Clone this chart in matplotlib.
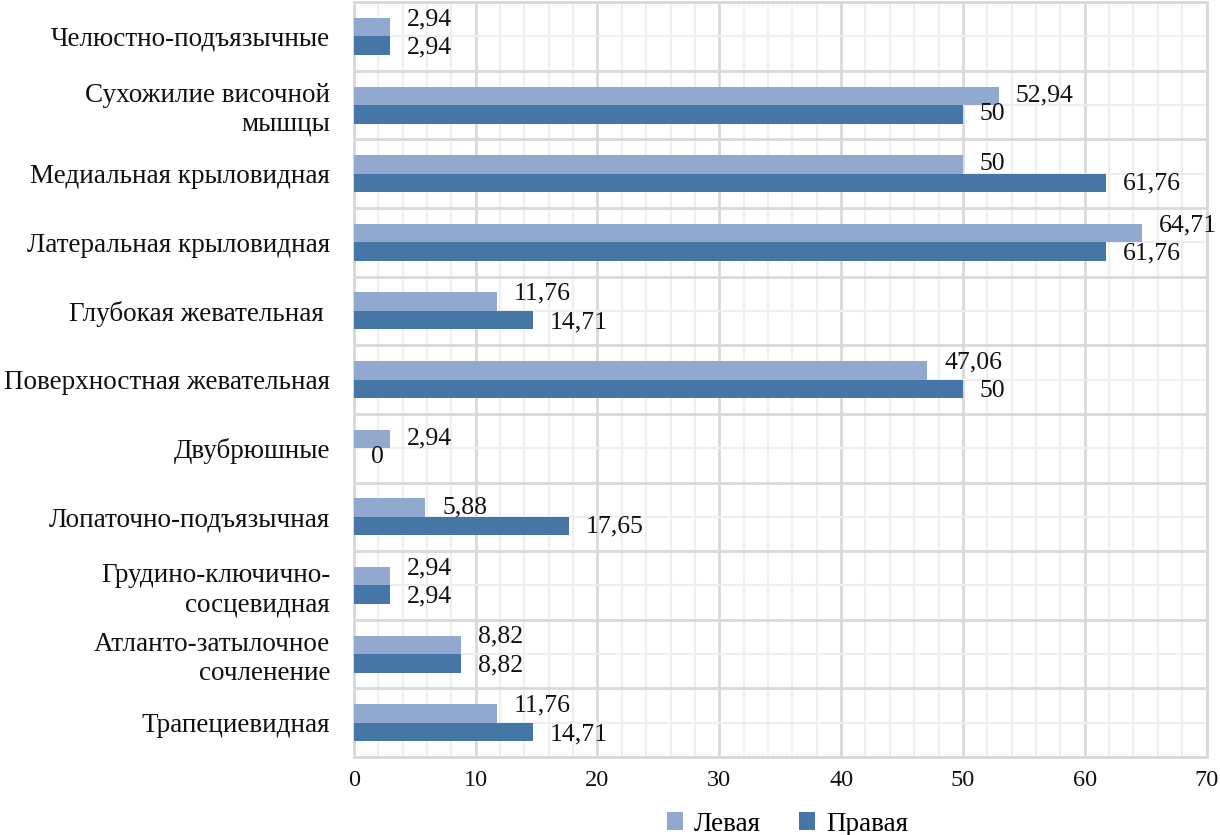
import matplotlib.pyplot as plt
from matplotlib.ticker import MultipleLocator
import numpy as np

categories = ['Челюстно-подъязычные', 'Сухожилие височной\nмышцы', 'Медиальная крыловидная',
              'Латеральная крыловидная', 'Глубокая жевательная ', 'Поверхностная жевательная',
              'Двубрюшные', 'Лопаточно-подъязычная', 'Грудино-ключично-\nсосцевидная',
              'Атланто-затылочное\nсочленение', 'Трапециевидная']
left = [2.94, 52.94, 50, 64.71, 11.76, 47.06, 2.94, 5.88, 2.94, 8.82, 11.76]
right = [2.94, 50, 61.76, 61.76, 14.71, 50, 0, 17.65, 2.94, 8.82, 14.71]
series_names = ['Левая', 'Правая']

plt.rcParams['font.family'] = ['Liberation Serif', 'DejaVu Serif']

fig = plt.figure(figsize=(12.2, 8.35), dpi=100)
ax = fig.add_axes([0.290, 0.0934, 0.699, 0.904])

y = np.arange(len(categories))
h = 0.27
c_left = '#92a9cf'
c_right = '#4676a6'
b1 = ax.barh(y - h / 2, left, height=h, color=c_left, label=series_names[0], zorder=3)
b2 = ax.barh(y + h / 2, right, height=h, color=c_right, label=series_names[1], zorder=3)

def fmt(v):
    return ('%g' % v).replace('.', ',')

labels = []
for bars, vals in ((b1, left), (b2, right)):
    row = []
    for rect, v in zip(bars, vals):
        t = ax.annotate(fmt(v), (rect.get_width(), rect.get_y() + rect.get_height() / 2),
                        xytext=(17, 0), textcoords='offset pixels', va='center', ha='left',
                        fontsize=18.5, color='#111111', zorder=4)
        row.append(t)
    labels.append(row)

ax.set_xlim(0, 70)
ax.set_ylim(len(categories) - 0.5, -0.5)
ax.xaxis.set_major_locator(MultipleLocator(10))
ax.xaxis.set_minor_locator(MultipleLocator(2))
ax.set_yticks(y)
ax.set_yticklabels(categories)
ax.set_yticks(np.arange(len(categories) + 1) - 0.5, minor=True)

ax.grid(axis='x', which='major', color='#d9d9d9', linewidth=2, zorder=0)
ax.grid(axis='x', which='minor', color='#efefef', linewidth=1.6, zorder=0)
ax.grid(axis='y', which='minor', color='#d9d9d9', linewidth=2, zorder=0)
ax.grid(axis='y', which='major', color='#efefef', linewidth=1.6, zorder=0)

ax.tick_params(axis='both', which='both', length=0, colors='#111111')
ax.tick_params(axis='x', pad=9, labelsize=17.5)
ax.tick_params(axis='y', pad=17, labelsize=19.5)
for s in ax.spines.values():
    s.set_color('#d9d9d9')
    s.set_linewidth(2)

# раздвигаем подписи, если они налезают друг на друга
fig.canvas.draw()
r = fig.canvas.get_renderer()
for tl, tr in zip(labels[0], labels[1]):
    if tl.get_window_extent(r).overlaps(tr.get_window_extent(r)):
        tl.set_position((17, 8))
        tr.set_position((17, -2))

fig.legend(handles=[b1, b2], loc='center', bbox_to_anchor=(0.6455, 0.013), ncol=2,
           frameon=False, fontsize=19.5, handlelength=0.6, handleheight=0.6,
           handletextpad=0.4, columnspacing=1.4)

fig.savefig('out.png', dpi=100)
